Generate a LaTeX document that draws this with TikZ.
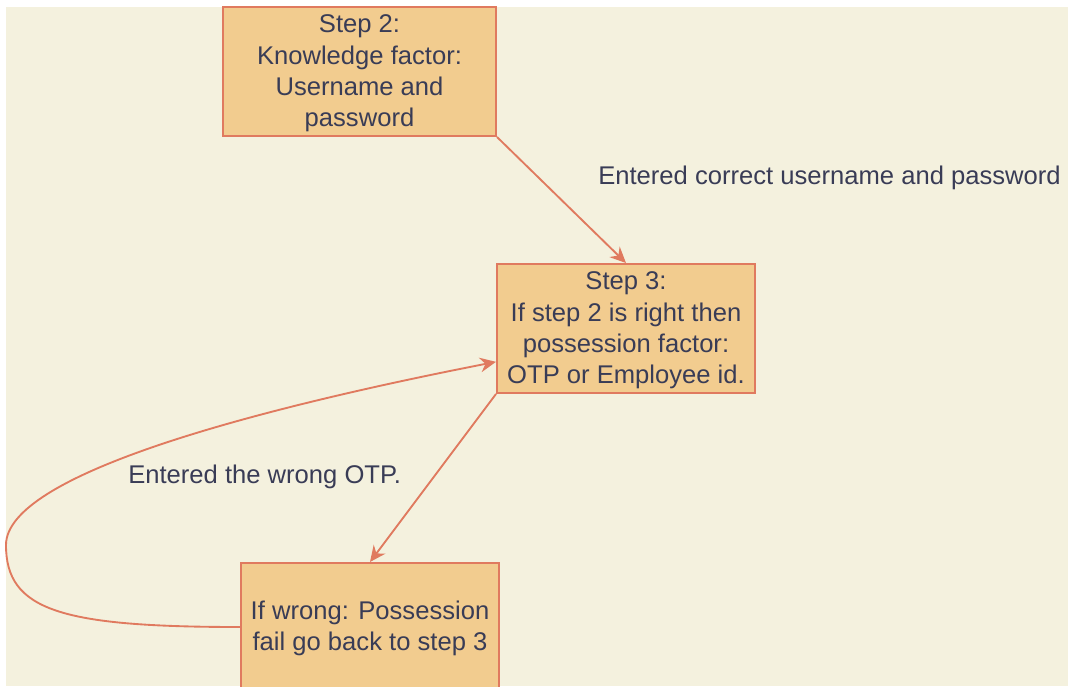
\documentclass[tikz,border=0pt]{standalone}
\usepackage{fontspec}
\setmainfont{Liberation Sans}
\usetikzlibrary{arrows.meta}
\definecolor{bgcream}{HTML}{F4F1DE}
\definecolor{boxfill}{HTML}{F2CC8F}
\definecolor{boxline}{HTML}{E07A5F}
\definecolor{txtcol}{HTML}{393C56}
\tikzset{
  stepbox/.style={draw=boxline, fill=boxfill, line width=1.5pt, inner sep=0pt,
    align=center, text=txtcol, minimum height=96.75pt},
  link/.style={draw=boxline, line width=1.4pt, -{Stealth[length=12pt,width=11pt,inset=4pt]}},
  lbl/.style={text=txtcol, inner sep=0pt, anchor=west}
}
\begin{document}
\begin{tikzpicture}[x=0.75pt,y=-0.75pt,font=\fontsize{19.2}{23.5}\selectfont]
\useasboundingbox (0,0) rectangle (1068,686);
\clip (0,0) rectangle (1068,686);
\fill[white] (0,0) rectangle (1068,686);
\fill[bgcream] (6,7) rectangle (1068,686); % canvas
% the three steps
\node[stepbox, minimum width=204.75pt] (step2) at (359.5,71.5) {\strut Step 2:\\Knowledge factor:\\Username and\\password};
\node[stepbox, minimum width=193.5pt] (step3) at (626,328.5) {\strut Step 3:\\If step 2 is right then\\possession factor:\\OTP or Employee id.};
\node[stepbox, minimum width=193.5pt, minimum height=96pt] (fail) at (370,627) {\strut If wrong: Possession\\fail go back to step 3};
% links
\draw[link] (step2.south east) -- (step3.north);
\draw[link] (step3.south west) -- (fail.north);
\coordinate (back) at ([yshift=-25pt]step3.west);
\coordinate (turn) at (6,545);
\draw[link] (fail.west) .. controls (60,627) and (6,610) .. (turn)
  .. controls (6,475) and (250,410) .. (back);
% labels
\node[lbl] (lblok) at (598,178) {Entered correct username and password};
\node[lbl] (lblwrong) at (128,477) {Entered the wrong OTP.};
\end{tikzpicture}
\end{document}
